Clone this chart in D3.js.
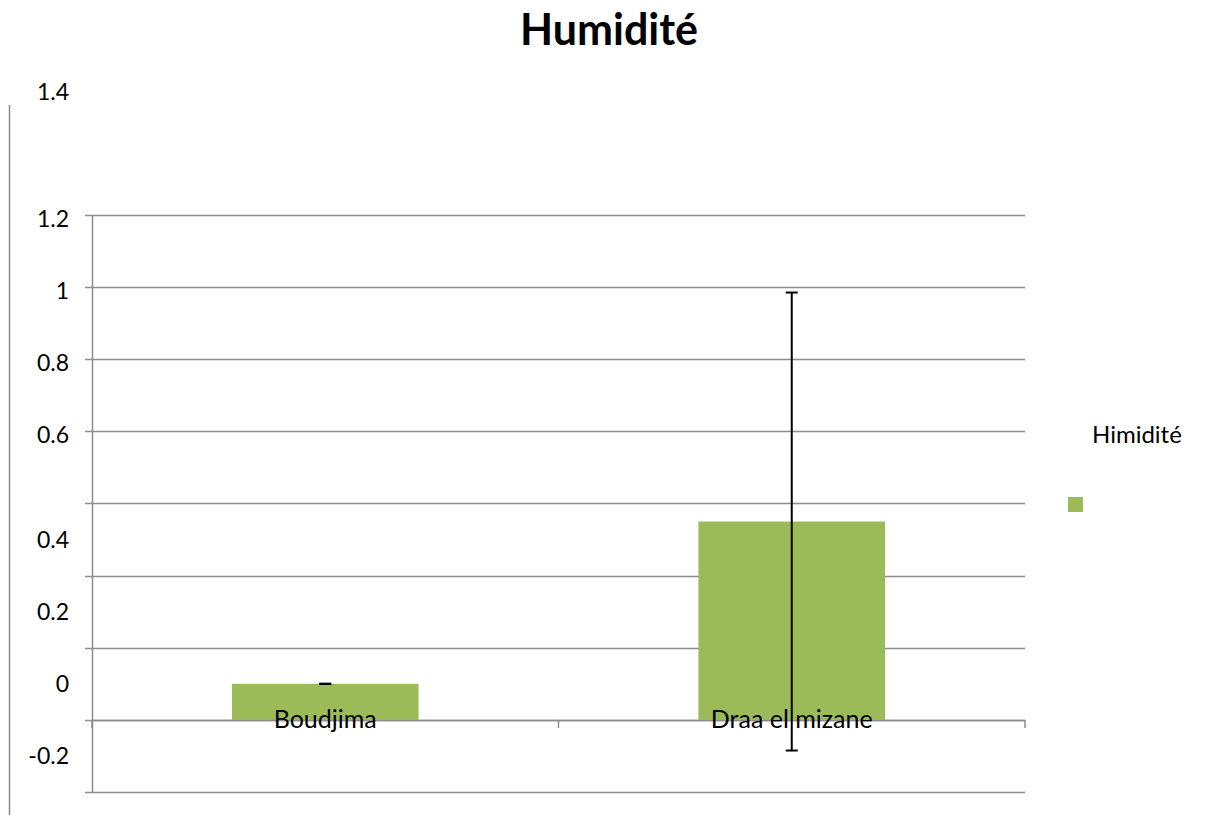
<!DOCTYPE html>
<html>
<head>
<meta charset="utf-8">
<script src="https://cdn.jsdelivr.net/npm/d3@7"></script>
<style>
  html, body { margin: 0; padding: 0; background: #fff; }
  svg { display: block; font-family: Lato, "Open Sans", sans-serif; }
</style>
</head>
<body>
<svg id="chart" width="1205" height="815"></svg>
<script>
// ---- data ----
const titleText = "Humidité";
const seriesName = "Himidité";
const categories = ["Boudjima", "Draa el mizane"];
const values = [0.1, 0.55];
const errors = [0.0, 0.635];
const gridValues = [1.4, 1.2, 1.0, 0.8, 0.6, 0.4, 0.2, 0, -0.2];
const tickLabels = ["1.4", "1.2", "1", "0.8", "0.6", "0.4", "0.2", "0", "-0.2"];
// where each (misplaced) tick label sits, in data units
const tickLabelAnchors = [1.74, 1.39, 1.19, 0.99, 0.79, 0.5, 0.3, 0.1, -0.1];

// ---- layout ----
const svg = d3.select("#chart");
const plot = { left: 92, right: 1025, top: 215, bottom: 792 };
const gridColor = "#8c8c8c";
const barColor = "#9BBB59";

const y = d3.scaleLinear().domain([-0.2, 1.4]).range([plot.bottom, plot.top]);
const x = d3.scaleBand().domain(categories).range([plot.left, plot.right])
  .paddingInner(0.6).paddingOuter(0.3);

// outer left frame line
svg.append("line")
  .attr("x1", 9.5).attr("x2", 9.5).attr("y1", 105).attr("y2", 815)
  .attr("stroke", gridColor).attr("stroke-width", 1.5);

// title
svg.append("text")
  .attr("x", 609).attr("y", 45)
  .attr("text-anchor", "middle")
  .attr("font-size", 43).attr("font-weight", "bold")
  .attr("fill", "#000")
  .text(titleText);

// gridlines with left tick marks
svg.append("g").selectAll("line").data(gridValues).join("line")
  .attr("x1", plot.left - 7).attr("x2", plot.right)
  .attr("y1", d => Math.round(y(d)) + 0.5).attr("y2", d => Math.round(y(d)) + 0.5)
  .attr("stroke", gridColor).attr("stroke-width", 1.5);

// value axis line
svg.append("line")
  .attr("x1", plot.left + 0.5).attr("x2", plot.left + 0.5)
  .attr("y1", y(1.4)).attr("y2", y(-0.2))
  .attr("stroke", gridColor).attr("stroke-width", 1.5);

// tick labels
svg.append("g").selectAll("text").data(tickLabels).join("text")
  .attr("x", 69)
  .attr("y", (d, i) => y(tickLabelAnchors[i]))
  .attr("dy", "0.35em")
  .attr("text-anchor", "end")
  .attr("font-size", 23)
  .attr("fill", "#000")
  .text(d => d);

// bars
svg.append("g").selectAll("rect").data(categories).join("rect")
  .attr("x", d => x(d))
  .attr("width", x.bandwidth())
  .attr("y", (d, i) => y(Math.max(0, values[i])))
  .attr("height", (d, i) => Math.abs(y(values[i]) - y(0)))
  .attr("fill", barColor);

// category axis line (baseline) and ticks
svg.append("line")
  .attr("x1", plot.left).attr("x2", plot.right)
  .attr("y1", Math.round(y(0)) + 0.5).attr("y2", Math.round(y(0)) + 0.5)
  .attr("stroke", gridColor).attr("stroke-width", 1.5);
const bounds = d3.range(categories.length + 1).map(i => plot.left + i * (plot.right - plot.left) / categories.length);
svg.append("g").selectAll("line").data(bounds).join("line")
  .attr("x1", d => d).attr("x2", d => d)
  .attr("y1", y(0)).attr("y2", y(0) + 8)
  .attr("stroke", gridColor).attr("stroke-width", 1.5);

// error bars
const eb = svg.append("g");
categories.forEach((c, i) => {
  const cx = x(c) + x.bandwidth() / 2;
  const top = y(values[i] + errors[i]);
  const bot = y(values[i] - errors[i]);
  if (errors[i] > 0) {
    eb.append("line").attr("x1", cx).attr("x2", cx).attr("y1", top).attr("y2", bot)
      .attr("stroke", "#000").attr("stroke-width", 2);
  }
  [top, bot].forEach(yy => {
    eb.append("line").attr("x1", cx - 6).attr("x2", cx + 6).attr("y1", yy).attr("y2", yy)
      .attr("stroke", "#000").attr("stroke-width", 2);
  });
});

// category labels (sitting on the baseline)
svg.append("g").selectAll("text").data(categories).join("text")
  .attr("x", d => x(d) + x.bandwidth() / 2)
  .attr("y", y(0) - 1)
  .attr("dy", "0.35em")
  .attr("text-anchor", "middle")
  .attr("font-size", 25)
  .attr("fill", "#000")
  .text(d => d);

// legend
svg.append("text")
  .attr("x", 1092).attr("y", 435).attr("dy", "0.35em")
  .attr("font-size", 24).attr("fill", "#000")
  .text(seriesName);
svg.append("rect")
  .attr("x", 1068).attr("y", 497).attr("width", 15).attr("height", 15)
  .attr("fill", barColor);
</script>
</body>
</html>
